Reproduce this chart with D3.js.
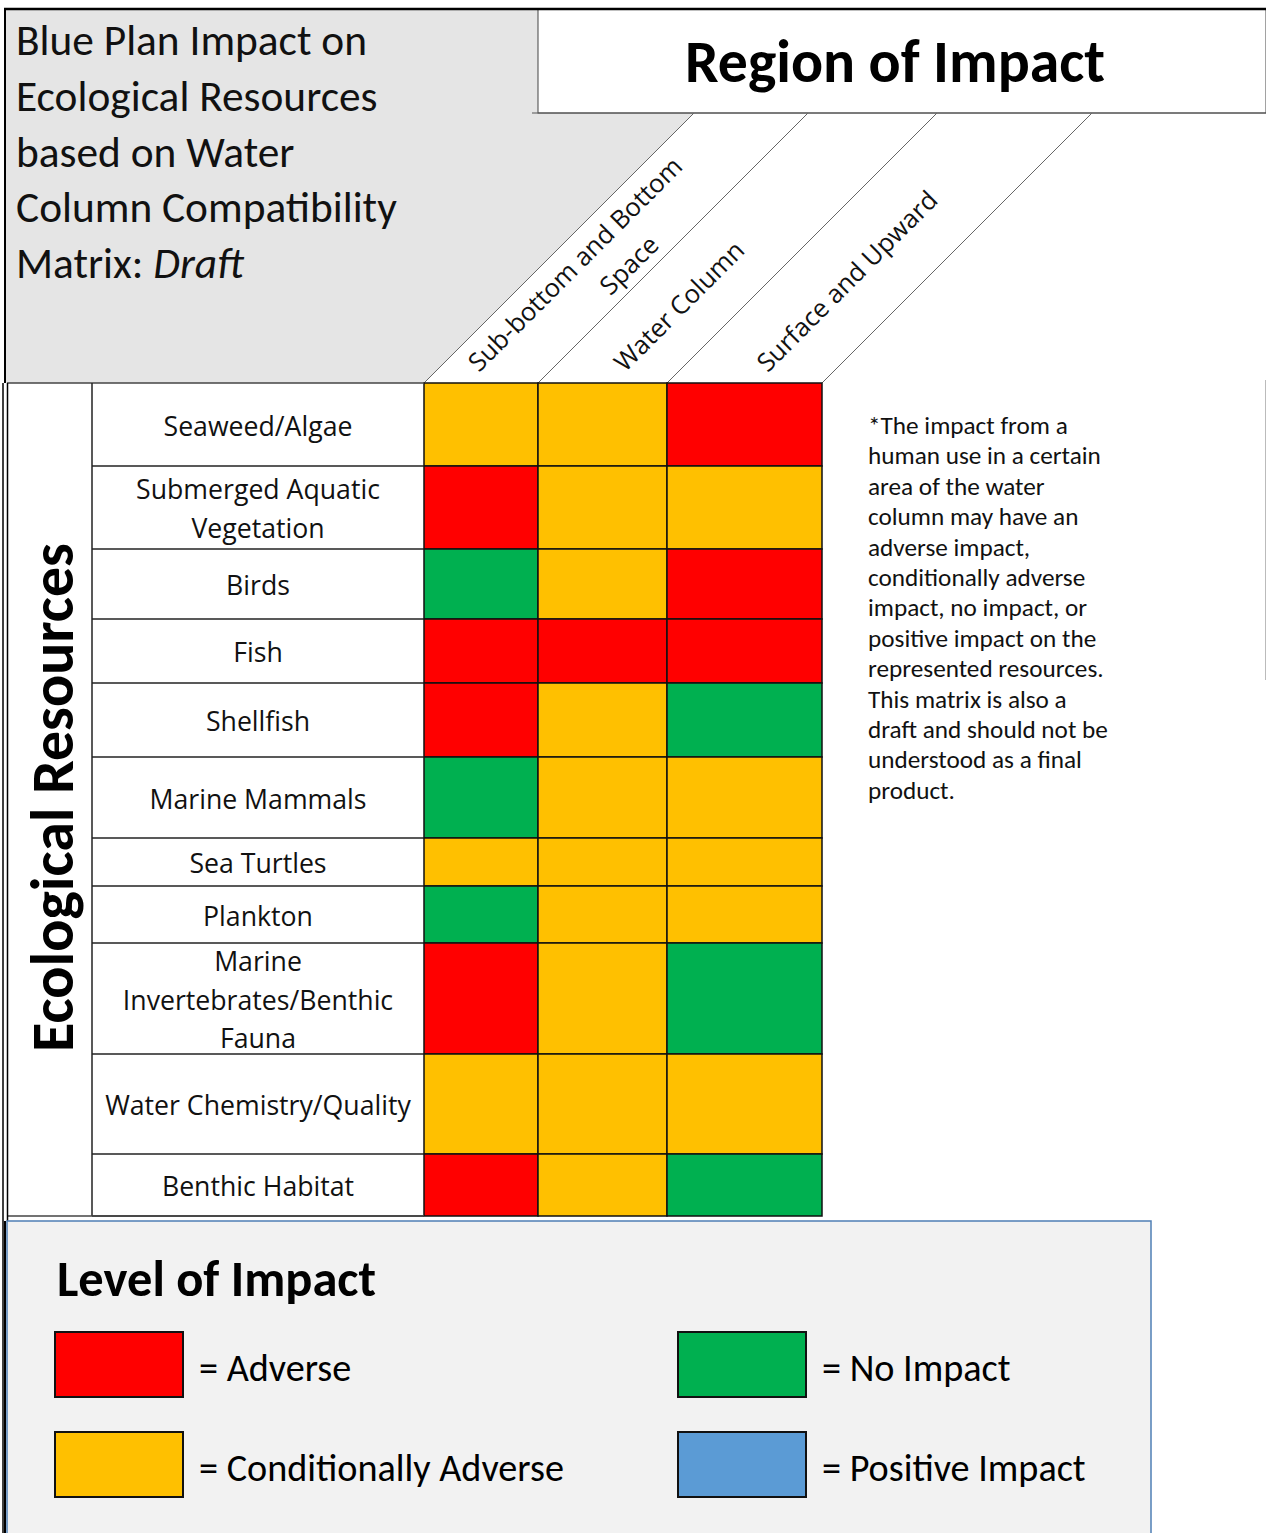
<!DOCTYPE html>
<html>
<head>
<meta charset="utf-8">
<script src="https://cdn.jsdelivr.net/npm/d3@7"></script>
<style>
  html, body { margin: 0; padding: 0; background: #fff; }
  svg { display: block; }
</style>
</head>
<body>
<svg id="chart" width="1266" height="1533"></svg>
<script>
// ---------------- DATA ----------------
const titleLines = ["Blue Plan Impact on", "Ecological Resources", "based on Water", "Column Compatibility", "Matrix: "];
const titleItalic = "Draft";
const headerTitle = "Region of Impact";
const rowAxisTitle = "Ecological Resources";

const regions = ["Sub-bottom and Bottom Space", "Water Column", "Surface and Upward"];
const regionLabelLines = [["Sub-bottom and Bottom", "Space"], ["Water Column"], ["Surface and Upward"]];

const categories = [
  "Seaweed/Algae", "Submerged Aquatic Vegetation", "Birds", "Fish", "Shellfish",
  "Marine Mammals", "Sea Turtles", "Plankton", "Marine Invertebrates/Benthic Fauna",
  "Water Chemistry/Quality", "Benthic Habitat"
];
const categoryLabelLines = [
  ["Seaweed/Algae"], ["Submerged Aquatic", "Vegetation"], ["Birds"], ["Fish"], ["Shellfish"],
  ["Marine Mammals"], ["Sea Turtles"], ["Plankton"], ["Marine", "Invertebrates/Benthic", "Fauna"],
  ["Water Chemistry/Quality"], ["Benthic Habitat"]
];

// impact codes: A = Adverse, C = Conditionally Adverse, N = No Impact, P = Positive Impact
const subBottomImpact   = ["C", "A", "N", "A", "A", "N", "C", "N", "A", "C", "A"];
const waterColumnImpact = ["C", "C", "C", "A", "C", "C", "C", "C", "C", "C", "C"];
const surfaceImpact     = ["A", "C", "A", "A", "N", "C", "C", "C", "N", "C", "N"];

const levelCodes  = ["A", "C", "N", "P"];
const levelLabels = ["= Adverse", "= Conditionally Adverse", "= No Impact", "= Positive Impact"];
const legendTitle = "Level of Impact";

const noteLines = [
  "*The impact from a", "human use in a certain", "area of the water", "column may have an",
  "adverse impact,", "conditionally adverse", "impact, no impact, or", "positive impact on the",
  "represented resources.", "This matrix is also a", "draft and should not be",
  "understood as a final", "product."
];

// ---------------- LAYOUT ----------------
const calibri = "Carlito, Lato, 'Open Sans', sans-serif";
const segoe = "'Open Sans', 'Noto Sans', sans-serif";
const levelColors = ["#ff0000", "#ffc000", "#00b050", "#5b9bd5"];
const rowEdges = [383, 466, 549, 619, 683, 757, 838, 886, 943, 1054, 1154, 1216];
const colEdges = [424, 538, 667, 822];
const labelColX = [92, 424];
const slant = 270; // 45 degree header
const headerTop = 113;

const svg = d3.select("#chart");

function fitWidth(sel, target) {
  const n = sel.node();
  const fs = parseFloat(sel.attr("font-size"));
  const w = n.getComputedTextLength();
  const nfs = fs * target / w;
  sel.attr("font-size", nfs);
  return nfs;
}

// scales
const yTop = d3.scaleOrdinal().domain(categories).range(rowEdges.slice(0, -1));
const yH = d3.scaleOrdinal().domain(categories).range(rowEdges.slice(1).map((e, i) => e - rowEdges[i]));
const xLeft = d3.scaleOrdinal().domain(regions).range(colEdges.slice(0, -1));
const xW = d3.scaleOrdinal().domain(regions).range(colEdges.slice(1).map((e, i) => e - colEdges[i]));
const color = d3.scaleOrdinal().domain(levelCodes).range(levelColors);

const impactByRegion = [subBottomImpact, waterColumnImpact, surfaceImpact];
const cells = [];
regions.forEach((r, ri) => categories.forEach((c, ci) => cells.push({ region: r, category: c, level: impactByRegion[ri][ci] })));

// ---------------- TITLE AREA ----------------
svg.append("polygon")
  .attr("points", [[5, 9], [538, 9], [538, headerTop], [colEdges[0] + slant, headerTop], [colEdges[0], rowEdges[0]], [5, rowEdges[0]]].map(p => p.join(",")).join(" "))
  .attr("fill", "#e5e5e5");

const tg = svg.append("g");
const titleBase = 55, titleStep = 55.8;
const tTexts = titleLines.map((t, i) => tg.append("text")
  .attr("x", 16).attr("y", titleBase + i * titleStep)
  .attr("font-family", calibri).attr("font-size", 38).attr("fill", "#111").text(t));
const tfs = fitWidth(tTexts[3], 381);
tTexts.forEach(t => t.attr("font-size", tfs));
tTexts[4].append("tspan").attr("font-style", "italic").text(titleItalic);

// Region of Impact box
svg.append("rect").attr("x", 538).attr("y", 9).attr("width", 728).attr("height", headerTop - 9)
  .attr("fill", "#fff").attr("stroke", "#444").attr("stroke-width", 1);
const rt = svg.append("text").attr("x", 895).attr("y", 82).attr("text-anchor", "middle")
  .attr("font-family", calibri).attr("font-weight", "bold").attr("font-size", 56).attr("fill", "#000").text(headerTitle);
fitWidth(rt, 420);
svg.append("line").attr("x1", 532).attr("x2", 1266).attr("y1", headerTop).attr("y2", headerTop)
  .attr("stroke", "#555").attr("stroke-width", 1.2);

// diagonal header lines
colEdges.forEach(x => {
  svg.append("line").attr("x1", x).attr("y1", rowEdges[0]).attr("x2", x + slant).attr("y2", headerTop)
    .attr("stroke", "#666").attr("stroke-width", 1);
});

// diagonal header labels
const diagCenters = [[[575, 264], [629, 265]], [[679, 306]], [[847, 281]]];
const diagTexts = [];
regionLabelLines.forEach((lines, ri) => {
  lines.forEach((ln, li) => {
    const [cx, cy] = diagCenters[ri][li];
    const t = svg.append("text")
      .attr("transform", `translate(${cx},${cy}) rotate(-45)`)
      .attr("text-anchor", "middle").attr("dy", "0.36em")
      .attr("font-family", segoe).attr("font-size", 25).attr("fill", "#111").text(ln);
    diagTexts.push(t);
  });
});
const dfs = fitWidth(diagTexts[0], 290);
diagTexts.forEach(t => t.attr("font-size", dfs));

// ---------------- MATRIX ----------------
svg.append("rect").attr("x", 7).attr("y", rowEdges[0]).attr("width", colEdges[0] - 7).attr("height", rowEdges[rowEdges.length - 1] - rowEdges[0])
  .attr("fill", "#fff");

svg.append("g").selectAll("rect").data(cells).join("rect")
  .attr("x", d => xLeft(d.region)).attr("y", d => yTop(d.category))
  .attr("width", d => xW(d.region)).attr("height", d => yH(d.category))
  .attr("fill", d => color(d.level)).attr("stroke", "#111").attr("stroke-width", 1.5);

svg.append("g").selectAll("line").data(categories).join("line")
  .attr("x1", labelColX[0]).attr("x2", labelColX[1])
  .attr("y1", d => yTop(d) + yH(d)).attr("y2", d => yTop(d) + yH(d))
  .attr("stroke", "#222").attr("stroke-width", 1.5);
svg.append("line").attr("x1", 7).attr("x2", colEdges[0]).attr("y1", rowEdges[0]).attr("y2", rowEdges[0])
  .attr("stroke", "#444").attr("stroke-width", 1.5);
svg.append("line").attr("x1", labelColX[0]).attr("x2", labelColX[0]).attr("y1", rowEdges[0]).attr("y2", rowEdges[rowEdges.length - 1])
  .attr("stroke", "#222").attr("stroke-width", 1.5);
svg.append("line").attr("x1", 7).attr("x2", colEdges[0]).attr("y1", rowEdges[rowEdges.length - 1]).attr("y2", rowEdges[rowEdges.length - 1])
  .attr("stroke", "#444").attr("stroke-width", 1.5);

// row labels
const rowLabelTexts = [];
const lineGap = 38.5;
categories.forEach((c, ci) => {
  const lines = categoryLabelLines[ci];
  const cy = yTop(c) + yH(c) / 2;
  lines.forEach((ln, li) => {
    const t = svg.append("text")
      .attr("x", (labelColX[0] + labelColX[1]) / 2)
      .attr("y", cy + (li - (lines.length - 1) / 2) * lineGap)
      .attr("dy", "0.42em").attr("text-anchor", "middle")
      .attr("font-family", segoe).attr("font-size", 24).attr("fill", "#111").text(ln);
    rowLabelTexts.push(t);
  });
});
const rfs = fitWidth(rowLabelTexts[0], 189);
rowLabelTexts.forEach(t => t.attr("font-size", rfs));

// Ecological Resources vertical
const er = svg.append("text")
  .attr("transform", `translate(73, ${(543 + 1052) / 2}) rotate(-90)`)
  .attr("text-anchor", "middle")
  .attr("font-family", calibri).attr("font-weight", "bold").attr("font-size", 60).attr("fill", "#000").text(rowAxisTitle);
fitWidth(er, 509);

// outer borders
svg.append("line").attr("x1", 4).attr("x2", 1266).attr("y1", 9).attr("y2", 9).attr("stroke", "#000").attr("stroke-width", 2.5);
svg.append("line").attr("x1", 5).attr("x2", 5).attr("y1", 8).attr("y2", rowEdges[0]).attr("stroke", "#000").attr("stroke-width", 2);
svg.append("line").attr("x1", 3).attr("x2", 3).attr("y1", rowEdges[0]).attr("y2", 1533).attr("stroke", "#000").attr("stroke-width", 1.5);
svg.append("line").attr("x1", 7.5).attr("x2", 7.5).attr("y1", rowEdges[0]).attr("y2", 1221).attr("stroke", "#000").attr("stroke-width", 1.5);
svg.append("line").attr("x1", 1265.5).attr("x2", 1265.5).attr("y1", 380).attr("y2", 680).attr("stroke", "#bbb").attr("stroke-width", 1);

// ---------------- NOTE ----------------
const noteTexts = noteLines.map((ln, i) => svg.append("text")
  .attr("x", 868).attr("y", 434 + i * 30.4)
  .attr("font-family", calibri).attr("font-size", 22).attr("fill", "#111").text(ln));
const nfs = fitWidth(noteTexts[10], 240);
noteTexts.forEach(t => t.attr("font-size", nfs));

// ---------------- LEGEND ----------------
svg.append("rect").attr("x", 7).attr("y", 1221).attr("width", 1144).attr("height", 330)
  .attr("fill", "#f2f2f2").attr("stroke", "#4f7fb5").attr("stroke-width", 1.5);
svg.append("line").attr("x1", 5).attr("x2", 5).attr("y1", 1221).attr("y2", 1533).attr("stroke", "#000").attr("stroke-width", 2);

const lt = svg.append("text").attr("x", 57).attr("y", 1296)
  .attr("font-family", calibri).attr("font-weight", "bold").attr("font-size", 40).attr("fill", "#000").text(legendTitle);
fitWidth(lt, 319);

const legX = d3.scaleOrdinal().domain(levelCodes).range([55, 55, 678, 678]);
const legY = d3.scaleOrdinal().domain(levelCodes).range([1332, 1432, 1332, 1432]);
const lg = svg.append("g");
lg.selectAll("rect").data(levelCodes).join("rect")
  .attr("x", d => legX(d)).attr("y", d => legY(d)).attr("width", 128).attr("height", 65)
  .attr("fill", d => color(d)).attr("stroke", "#111").attr("stroke-width", 2);
const legTexts = lg.selectAll("text").data(levelCodes).join("text")
  .attr("x", d => legX(d) + 144).attr("y", d => legY(d) + 49)
  .attr("font-family", calibri).attr("font-size", 34).attr("fill", "#000")
  .text((d, i) => levelLabels[i]);
const lfs = fitWidth(d3.select(legTexts.nodes()[1]), 365);
legTexts.attr("font-size", lfs);
</script>
</body>
</html>
